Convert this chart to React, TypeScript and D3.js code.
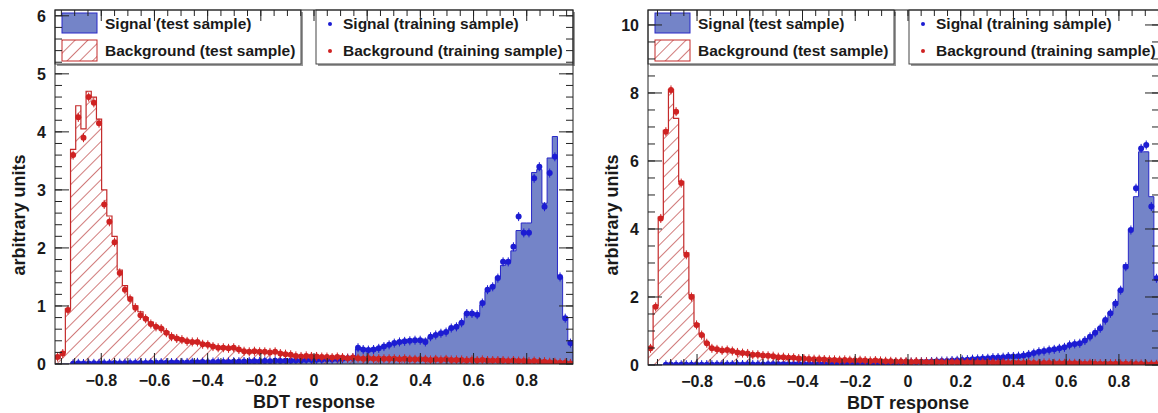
import React from "react";
import * as d3 from "d3";

// ---------- data (100 bins per panel) ----------
const xTickValues = [-0.8, -0.6, -0.4, -0.2, 0, 0.2, 0.4, 0.6, 0.8];
const yTicksLeft = [0, 1, 2, 3, 4, 5, 6];
const yTicksRight = [0, 2, 4, 6, 8, 10];
const legendLabels = [
  "Signal (test sample)",
  "Background (test sample)",
  "Signal (training sample)",
  "Background (training sample)",
];

const sigTestL = [
  0, 0, 0, 0.005, 0.01, 0.01, 0.008, 0.01, 0.012, 0.01,
  0.012, 0.015, 0.014, 0.016, 0.015, 0.018, 0.017, 0.02, 0.019, 0.021,
  0.022, 0.024, 0.023, 0.026, 0.025, 0.028, 0.027, 0.03, 0.031, 0.032,
  0.033, 0.035, 0.034, 0.037, 0.038, 0.04, 0.041, 0.043, 0.044, 0.046,
  0.048, 0.05, 0.052, 0.054, 0.056, 0.058, 0.06, 0.063, 0.066, 0.068,
  0.07, 0.074, 0.078, 0.08, 0.085, 0.09, 0.1, 0.11, 0.26, 0.24,
  0.24, 0.23, 0.27, 0.3, 0.33, 0.35, 0.38, 0.4, 0.4, 0.4,
  0.41, 0.43, 0.47, 0.5, 0.53, 0.56, 0.62, 0.65, 0.72, 0.88,
  0.88, 0.86, 1.02, 1.25, 1.35, 1.5, 1.7, 1.78, 1.95, 2.3,
  2.43, 2.43, 3.3, 3.35, 2.77, 3.55, 3.92, 1.5, 0.8, 0.4,
];
const sigTrainL = [
  0, 0, 0, 0.004, 0.012, 0.009, 0.01, 0.011, 0.01, 0.013,
  0.011, 0.016, 0.015, 0.015, 0.017, 0.017, 0.019, 0.019, 0.021, 0.02,
  0.024, 0.023, 0.025, 0.025, 0.027, 0.027, 0.029, 0.029, 0.033, 0.031,
  0.034, 0.036, 0.036, 0.036, 0.04, 0.039, 0.043, 0.042, 0.046, 0.045,
  0.05, 0.049, 0.054, 0.053, 0.058, 0.057, 0.062, 0.062, 0.068, 0.067,
  0.072, 0.073, 0.08, 0.079, 0.087, 0.089, 0.1, 0.105, 0.28, 0.25,
  0.24, 0.25, 0.27, 0.3, 0.33, 0.36, 0.38, 0.39, 0.4, 0.41,
  0.41, 0.38, 0.47, 0.5, 0.53, 0.55, 0.62, 0.64, 0.71, 0.87,
  0.87, 0.85, 1.05, 1.28, 1.33, 1.48, 1.76, 1.76, 2.02, 2.54,
  2.26, 2.26, 3.2, 3.4, 2.71, 3.29, 3.57, 1.5, 0.79, 0.36,
];
const bgTestL = [
  0.1, 0.2, 0.95, 3.7, 4.45, 4.05, 4.7, 4.6, 4.22, 3.0,
  2.55, 2.2, 1.62, 1.35, 1.15, 1.0, 0.9, 0.8, 0.72, 0.66,
  0.62, 0.56, 0.5, 0.46, 0.43, 0.4, 0.39, 0.38, 0.35, 0.33,
  0.31, 0.29, 0.28, 0.28, 0.27, 0.25, 0.23, 0.22, 0.21, 0.21,
  0.21, 0.21, 0.2, 0.19, 0.17, 0.16, 0.15, 0.14, 0.14, 0.14,
  0.13, 0.13, 0.12, 0.12, 0.12, 0.11, 0.11, 0.11, 0.1, 0.1,
  0.1, 0.1, 0.09, 0.09, 0.1, 0.09, 0.09, 0.09, 0.08, 0.08,
  0.09, 0.08, 0.08, 0.08, 0.08, 0.08, 0.07, 0.08, 0.07, 0.07,
  0.07, 0.07, 0.07, 0.06, 0.07, 0.06, 0.06, 0.06, 0.06, 0.05,
  0.05, 0.05, 0.05, 0.04, 0.04, 0.04, 0.03, 0.03, 0.02, 0.01,
];
const bgTrainL = [
  0.12, 0.18, 0.93, 3.6, 4.25, 3.9, 4.6, 4.5, 4.15, 2.75,
  2.45, 2.1, 1.57, 1.28, 1.12, 0.97, 0.84, 0.78, 0.69, 0.64,
  0.61, 0.54, 0.47, 0.44, 0.42, 0.39, 0.38, 0.38, 0.34, 0.33,
  0.3, 0.28, 0.28, 0.27, 0.28, 0.25, 0.22, 0.21, 0.22, 0.21,
  0.21, 0.2, 0.21, 0.18, 0.17, 0.16, 0.14, 0.13, 0.14, 0.13,
  0.13, 0.12, 0.12, 0.11, 0.12, 0.11, 0.1, 0.11, 0.1, 0.09,
  0.1, 0.09, 0.09, 0.09, 0.09, 0.09, 0.08, 0.09, 0.08, 0.08,
  0.08, 0.08, 0.07, 0.08, 0.07, 0.08, 0.07, 0.07, 0.07, 0.06,
  0.07, 0.06, 0.07, 0.06, 0.06, 0.06, 0.06, 0.05, 0.06, 0.05,
  0.05, 0.04, 0.05, 0.04, 0.04, 0.03, 0.03, 0.02, 0.02, 0.01,
];

const sigTestR = [
  0, 0, 0, 0.004, 0.006, 0.005, 0.007, 0.006, 0.008, 0.008,
  0.009, 0.01, 0.01, 0.011, 0.012, 0.012, 0.013, 0.014, 0.014, 0.015,
  0.016, 0.017, 0.018, 0.019, 0.02, 0.021, 0.022, 0.024, 0.025, 0.026,
  0.028, 0.029, 0.031, 0.032, 0.034, 0.036, 0.038, 0.04, 0.042, 0.044,
  0.046, 0.049, 0.051, 0.054, 0.057, 0.06, 0.063, 0.067, 0.07, 0.074,
  0.078, 0.082, 0.087, 0.092, 0.097, 0.1, 0.11, 0.115, 0.12, 0.13,
  0.14, 0.15, 0.16, 0.17, 0.18, 0.19, 0.2, 0.21, 0.22, 0.23,
  0.24, 0.25, 0.26, 0.28, 0.31, 0.35, 0.38, 0.4, 0.43, 0.46,
  0.48, 0.52, 0.58, 0.62, 0.66, 0.74, 0.84, 0.96, 1.1, 1.33,
  1.55, 1.85, 2.22, 2.95, 4.0, 4.95, 6.27, 6.27, 4.95, 2.6,
];
const sigTrainR = [
  0, 0, 0, 0.005, 0.005, 0.006, 0.006, 0.007, 0.007, 0.009,
  0.008, 0.011, 0.01, 0.012, 0.011, 0.013, 0.012, 0.015, 0.014, 0.016,
  0.015, 0.018, 0.017, 0.02, 0.019, 0.022, 0.021, 0.025, 0.024, 0.027,
  0.027, 0.03, 0.03, 0.033, 0.033, 0.037, 0.037, 0.041, 0.041, 0.045,
  0.045, 0.05, 0.05, 0.055, 0.056, 0.061, 0.062, 0.068, 0.069, 0.075,
  0.077, 0.083, 0.086, 0.093, 0.096, 0.102, 0.108, 0.117, 0.119, 0.132,
  0.138, 0.15, 0.158, 0.172, 0.178, 0.19, 0.198, 0.215, 0.22, 0.23,
  0.25, 0.25, 0.26, 0.28, 0.31, 0.35, 0.39, 0.41, 0.44, 0.46,
  0.49, 0.52, 0.59, 0.62, 0.64, 0.72, 0.83, 0.95, 1.08, 1.32,
  1.52, 1.81, 2.2, 2.89, 3.97, 5.2, 6.37, 6.47, 4.66, 2.55,
];
const bgTestR = [
  0.5, 1.75, 4.35, 6.9, 8.1, 7.25, 5.4, 3.3, 2.06, 1.22,
  0.9, 0.66, 0.5, 0.45, 0.44, 0.43, 0.42, 0.38, 0.36, 0.33,
  0.31, 0.3, 0.29, 0.27, 0.25, 0.24, 0.23, 0.22, 0.21, 0.2,
  0.19, 0.18, 0.18, 0.17, 0.16, 0.16, 0.15, 0.15, 0.15, 0.14,
  0.14, 0.14, 0.13, 0.13, 0.13, 0.12, 0.12, 0.11, 0.11, 0.1,
  0.1, 0.1, 0.1, 0.09, 0.09, 0.09, 0.09, 0.09, 0.08, 0.08,
  0.08, 0.08, 0.08, 0.08, 0.07, 0.08, 0.07, 0.07, 0.07, 0.07,
  0.07, 0.07, 0.06, 0.07, 0.06, 0.06, 0.06, 0.06, 0.06, 0.06,
  0.06, 0.05, 0.06, 0.05, 0.05, 0.05, 0.05, 0.05, 0.05, 0.04,
  0.04, 0.04, 0.04, 0.04, 0.03, 0.03, 0.03, 0.03, 0.02, 0.02,
];
const bgTrainR = [
  0.49, 1.71, 4.31, 6.86, 8.09, 7.45, 5.35, 3.24, 2.0, 1.18,
  0.88, 0.64, 0.49, 0.46, 0.43, 0.44, 0.41, 0.37, 0.35, 0.34,
  0.3, 0.3, 0.28, 0.27, 0.26, 0.23, 0.23, 0.21, 0.21, 0.19,
  0.19, 0.18, 0.17, 0.17, 0.16, 0.15, 0.15, 0.14, 0.15, 0.14,
  0.13, 0.14, 0.13, 0.12, 0.13, 0.12, 0.11, 0.11, 0.1, 0.1,
  0.1, 0.09, 0.1, 0.09, 0.09, 0.08, 0.09, 0.08, 0.08, 0.08,
  0.08, 0.07, 0.08, 0.07, 0.07, 0.07, 0.07, 0.07, 0.06, 0.07,
  0.06, 0.07, 0.06, 0.06, 0.06, 0.06, 0.05, 0.06, 0.06, 0.05,
  0.05, 0.05, 0.05, 0.05, 0.05, 0.04, 0.05, 0.04, 0.04, 0.04,
  0.04, 0.04, 0.03, 0.04, 0.03, 0.03, 0.03, 0.02, 0.02, 0.02,
];

// ---------- style ----------
const FONT = "'Liberation Sans', Arial, Helvetica, sans-serif";
const SIG_FILL = "#7484c8";
const SIG_LINE = "#2828c8";
const SIG_MARK = "#1c1cd2";
const BG_LINE = "#c42a2a";
const BG_HATCH = "#b83434";
const BG_MARK = "#cf2222";
const AXIS = "#222";

type PanelProps = {
  fx0: number; fx1: number; fy0: number; fy1: number;
  xMin: number; xMax: number; yMax: number;
  yTicks: number[]; yMinor: number;
  sigTest: number[]; sigTrain: number[]; bgTest: number[]; bgTrain: number[];
  id: string;
};

function Panel(p: PanelProps) {
  const x = d3.scaleLinear().domain([p.xMin, p.xMax]).range([p.fx0, p.fx1]);
  const y = d3.scaleLinear().domain([0, p.yMax]).range([p.fy1, p.fy0]);
  const n = p.sigTest.length;
  const edges = d3.range(n + 1).map((i) => p.xMin + (i * (p.xMax - p.xMin)) / n);
  const centers = d3.range(n).map((i) => (edges[i] + edges[i + 1]) / 2);

  const histOutline = (vals: number[]) => {
    let d = `M${x(edges[0])},${y(0)}`;
    vals.forEach((v, i) => {
      d += `L${x(edges[i])},${y(v)}L${x(edges[i + 1])},${y(v)}`;
    });
    d += `L${x(edges[n])},${y(0)}`;
    return d;
  };

  const xMinorTicks = d3.range(-0.95, 0.96, 0.05).filter((v) => v >= p.xMin && v <= p.xMax);
  const yMinorTicks = d3.range(0, p.yMax + 1e-9, p.yMinor);

  const clipId = `clip-${p.id}`;
  const hatchId = `hatch-${p.id}`;
  const fw = p.fx1 - p.fx0;

  const points = (vals: number[], color: string) =>
    vals.map((v, i) =>
      v > 0 ? (
        <g key={i}>
          <line x1={x(centers[i])} x2={x(centers[i])} y1={y(v) - 4.5} y2={y(v) + 4.5} stroke={color} strokeWidth={1} />
          <circle cx={x(centers[i])} cy={y(v)} r={3} fill={color} />
        </g>
      ) : null
    );

  // legend geometry
  const b1 = { x: p.fx0, y: p.fy0, w: 246, h: 54 };
  const b2 = { x: p.fx0 + 261, y: p.fy0, w: fw - 261, h: 54 };

  return (
    <g>
      <defs>
        <clipPath id={clipId}>
          <rect x={p.fx0} y={p.fy0} width={fw} height={p.fy1 - p.fy0} />
        </clipPath>
        <pattern id={hatchId} width={9} height={9} patternUnits="userSpaceOnUse" patternTransform="rotate(45)">
          <line x1={0} y1={0} x2={0} y2={9} stroke={BG_HATCH} strokeWidth={1.3} />
        </pattern>
      </defs>

      <g clipPath={`url(#${clipId})`}>
        <path d={histOutline(p.sigTest)} fill={SIG_FILL} stroke="none" />
        <path d={histOutline(p.bgTest)} fill={`url(#${hatchId})`} stroke="none" />
        <path d={histOutline(p.sigTest)} fill="none" stroke={SIG_LINE} strokeWidth={1} />
        <path d={histOutline(p.bgTest)} fill="none" stroke={BG_LINE} strokeWidth={1.2} />
        {points(p.sigTrain, SIG_MARK)}
        {points(p.bgTrain, BG_MARK)}
      </g>

      {/* legends */}
      <g fontFamily={FONT} fontWeight="bold" fontSize={15.5} fill="#1a1a1a">
        <rect x={b1.x + 2} y={b1.y + 2} width={b1.w} height={b1.h} fill="#999" />
        <rect x={b1.x} y={b1.y} width={b1.w} height={b1.h} fill="#fff" stroke="#444" strokeWidth={1} />
        <rect x={p.fx0 + 7} y={p.fy0 + 3} width={35} height={20} fill={SIG_FILL} stroke={SIG_LINE} strokeWidth={1} />
        <rect x={p.fx0 + 7} y={p.fy0 + 30} width={35} height={21} fill={`url(#${hatchId})`} stroke={BG_LINE} strokeWidth={1} />
        <text x={p.fx0 + 50} y={p.fy0 + 19}>{legendLabels[0]}</text>
        <text x={p.fx0 + 50} y={p.fy0 + 46}>{legendLabels[1]}</text>

        <rect x={b2.x + 2} y={b2.y + 2} width={b2.w} height={b2.h} fill="#999" />
        <rect x={b2.x} y={b2.y} width={b2.w} height={b2.h} fill="#fff" stroke="#444" strokeWidth={1} />
        <circle cx={b2.x + 14} cy={p.fy0 + 14} r={2} fill={SIG_MARK} />
        <circle cx={b2.x + 14} cy={p.fy0 + 41} r={2} fill={BG_MARK} />
        <text x={b2.x + 27} y={p.fy0 + 19}>{legendLabels[2]}</text>
        <text x={b2.x + 27} y={p.fy0 + 46}>{legendLabels[3]}</text>
      </g>

      {/* frame */}
      <rect x={p.fx0} y={p.fy0} width={fw} height={p.fy1 - p.fy0} fill="none" stroke={AXIS} strokeWidth={1} />

      {/* x ticks (bottom and top) */}
      {xMinorTicks.map((v, i) => (
        <g key={`xm${i}`} stroke={AXIS} strokeWidth={1}>
          <line x1={x(v)} x2={x(v)} y1={p.fy1} y2={p.fy1 - 6} />
          <line x1={x(v)} x2={x(v)} y1={p.fy0} y2={p.fy0 + 6} />
        </g>
      ))}
      {xTickValues.map((v) => (
        <g key={`xM${v}`} stroke={AXIS} strokeWidth={1}>
          <line x1={x(v)} x2={x(v)} y1={p.fy1} y2={p.fy1 - 11} />
          <line x1={x(v)} x2={x(v)} y1={p.fy0} y2={p.fy0 + 11} />
        </g>
      ))}
      {/* y ticks (left and right) */}
      {yMinorTicks.map((v, i) => (
        <g key={`ym${i}`} stroke={AXIS} strokeWidth={1}>
          <line x1={p.fx0} x2={p.fx0 + 7} y1={y(v)} y2={y(v)} />
          <line x1={p.fx1} x2={p.fx1 - 7} y1={y(v)} y2={y(v)} />
        </g>
      ))}
      {p.yTicks.map((v) => (
        <g key={`yM${v}`} stroke={AXIS} strokeWidth={1}>
          <line x1={p.fx0} x2={p.fx0 + 14} y1={y(v)} y2={y(v)} />
          <line x1={p.fx1} x2={p.fx1 - 14} y1={y(v)} y2={y(v)} />
        </g>
      ))}

      {/* tick labels */}
      <g fontFamily={FONT} fontWeight="bold" fontSize={16} fill="#1a1a1a">
        {xTickValues.map((v) => (
          <text key={`xl${v}`} x={x(v)} y={p.fy1 + 22} textAnchor="middle">
            {v === 0 ? "0" : d3.format(".1f")(v)}
          </text>
        ))}
        {p.yTicks.map((v) => (
          <text key={`yl${v}`} x={p.fx0 - 9} y={y(v)} dy="0.36em" textAnchor="end">
            {String(v)}
          </text>
        ))}
      </g>

      {/* axis titles */}
      <g fontFamily={FONT} fontWeight="bold" fontSize={18} fill="#1a1a1a">
        <text x={x(0)} y={p.fy1 + 44} textAnchor="middle">BDT response</text>
        <text transform={`translate(${p.fx0 - 30},215) rotate(-90)`} textAnchor="middle">arbitrary units</text>
      </g>
    </g>
  );
}

export default function App() {
  return (
    <svg
      width={1158}
      height={413}
      style={{ position: "absolute", left: 0, top: 0, background: "#fff" }}
    >
      <rect x={0} y={0} width={1158} height={413} fill="#fff" />
      <Panel
        id="L"
        fx0={55} fx1={573} fy0={10} fy1={364}
        xMin={-0.974} xMax={0.974} yMax={6.1}
        yTicks={yTicksLeft} yMinor={0.2}
        sigTest={sigTestL} sigTrain={sigTrainL} bgTest={bgTestL} bgTrain={bgTrainL}
      />
      <Panel
        id="R"
        fx0={648} fx1={1159} fy0={10} fy1={365}
        xMin={-0.986} xMax={0.952} yMax={10.44}
        yTicks={yTicksRight} yMinor={0.5}
        sigTest={sigTestR} sigTrain={sigTrainR} bgTest={bgTestR} bgTrain={bgTrainR}
      />
    </svg>
  );
}
